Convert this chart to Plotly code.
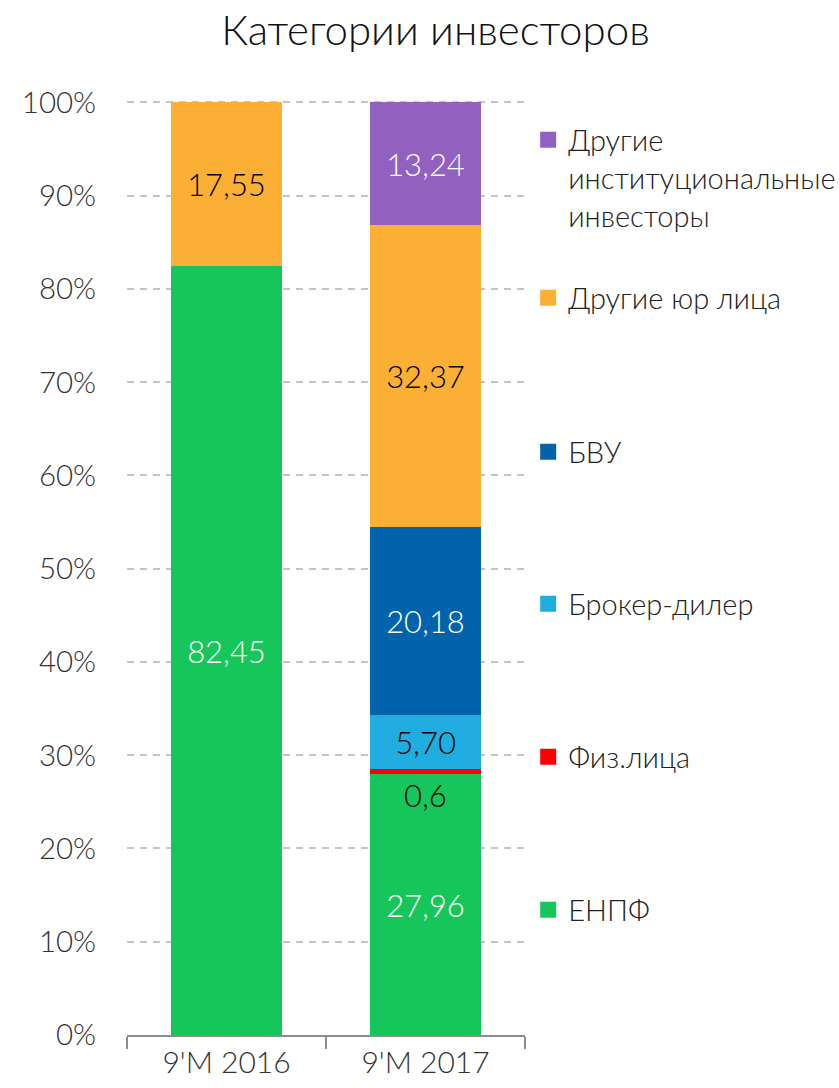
import plotly.graph_objects as go

categories = ["9'M 2016", "9'M 2017"]

series_names = ["ЕНПФ", "Физ.лица", "Брокер-дилер", "БВУ", "Другие юр лица",
                "Другие<br>институциональные<br>инвесторы"]
enpf = [82.45, 27.96]
fiz = [0.0, 0.6]
broker = [0.0, 5.70]
bvu = [0.0, 20.18]
yur = [17.55, 32.37]
inst = [0.0, 13.24]

enpf_labels = ["82,45", "27,96"]
fiz_labels = ["", "0,6"]
broker_labels = ["", "5,70"]
bvu_labels = ["", "20,18"]
yur_labels = ["17,55", "32,37"]
inst_labels = ["", "13,24"]

y_ticks = [0, 10, 20, 30, 40, 50, 60, 70, 80, 90, 100]
y_tick_text = ["0%", "10%", "20%", "30%", "40%", "50%", "60%", "70%", "80%", "90%", "100%"]

FONT = "Lato"
W, H = 839, 1088
ML, MR, MT, MB = 127, 314, 101, 53
plot_h = H - MT - MB
Y_MAX = 100.15

colors = ["#17c65a", "#ff0000", "#22ade0", "#0063ab", "#fbb035", "#9260bf"]
text_colors = ["white", "black", "black", "white", "black", "white"]
values = [enpf, fiz, broker, bvu, yur, inst]
labels = [enpf_labels, ["", ""], broker_labels, bvu_labels, yur_labels, inst_labels]

fig = go.Figure()
for i, (name, vals, labs, col, tcol) in enumerate(zip(series_names, values, labels, colors, text_colors)):
    fig.add_trace(go.Bar(
        x=categories, y=vals, name=name, text=labs,
        textposition="inside", insidetextanchor="middle", textangle=0,
        constraintext="none",
        textfont=dict(family=FONT, size=31, color=tcol, weight=300),
        marker=dict(color=col, line=dict(width=0)),
        showlegend=False, hoverinfo="skip",
    ))

# legend entries, each in its own legend box
legend_centers_px = [910, 757, 604, 452, 298, 178]
for i, (name, col) in enumerate(zip(series_names, colors)):
    lg = "legend" if i == 0 else f"legend{i+1}"
    fig.add_trace(go.Scatter(
        x=[None], y=[None], mode="markers", name=name,
        marker=dict(symbol="square", size=16, color=col),
        legend=lg, showlegend=True, hoverinfo="skip",
    ))

legend_common = dict(
    xanchor="left", yanchor="middle", x=1.008,
    font=dict(family=FONT, size=29, color="#222", weight=300),
    bgcolor="rgba(0,0,0,0)", borderwidth=0, itemsizing="trace", valign="top",
)
for i, ypx in enumerate(legend_centers_px):
    lg = "legend" if i == 0 else f"legend{i+1}"
    yp = (H - MB - ypx) / plot_h
    fig.update_layout(**{lg: dict(legend_common, y=yp)})

fig.add_annotation(
    x=categories[1], y=enpf[1], yanchor="top", text=fiz_labels[1],
    showarrow=False, font=dict(family=FONT, size=31, color="black", weight=300),
)

fig.update_layout(
    width=W, height=H, autosize=False,
    margin=dict(l=ML, r=MR, t=MT, b=MB, autoexpand=False),
    barmode="stack", bargap=0.44,
    plot_bgcolor="white", paper_bgcolor="white",
    title=dict(text="Категории инвесторов", x=0.519, xanchor="center",
               y=0.972, yanchor="middle",
               font=dict(family=FONT, size=42, color="#111", weight=300)),
    xaxis=dict(type="category", tickson="boundaries", ticks="outside", ticklen=12,
               tickcolor="#8c8c8c", tickwidth=1.5, showline=True, linecolor="#8c8c8c",
               linewidth=1.5, showgrid=False,
               tickfont=dict(family=FONT, size=30, color="#333", weight=300)),
    yaxis=dict(range=[0, Y_MAX], tickvals=y_ticks, ticktext=y_tick_text, showgrid=True,
               gridcolor="#c4c4c4", gridwidth=1.5, griddash="7px,6px",
               zeroline=False, showline=False, ticks="outside", ticklen=24,
               tickcolor="rgba(0,0,0,0)",
               tickfont=dict(family=FONT, size=29.5, color="#333", weight=300)),
)

fig.write_html("out.html", config={"displayModeBar": False},
               post_script="document.body.style.margin='0';")
